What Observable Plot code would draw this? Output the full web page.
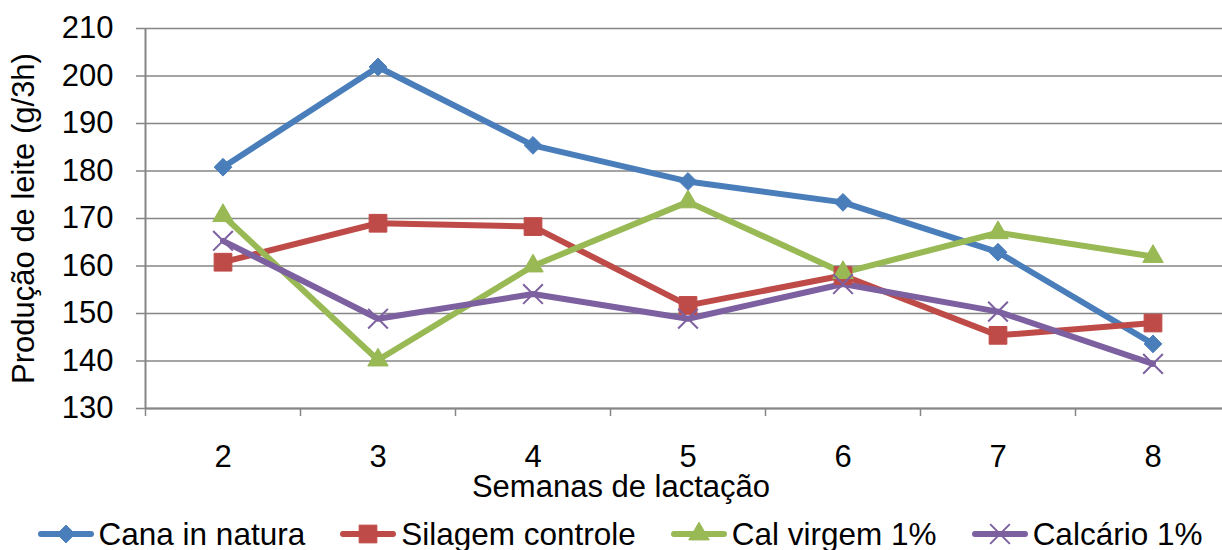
<!DOCTYPE html>
<html>
<head>
<meta charset="utf-8">
<script src="https://cdn.jsdelivr.net/npm/d3@7"></script>
<script src="https://cdn.jsdelivr.net/npm/@observablehq/plot@0.6"></script>
<style>
  html, body { margin: 0; padding: 0; background: #fff; overflow: hidden; }
  body { font-family: "Liberation Sans", Arial, sans-serif; color: #000; }
  #legend {
    width: 1240px; height: 45px; box-sizing: border-box; padding-top: 12px;
    display: flex; justify-content: center; align-items: flex-start; gap: 35px;
  }
  .item { display: flex; align-items: center; height: 34px; font-size: 31.5px; line-height: 34px; white-space: nowrap; }
  .item svg { margin-right: 5px; }
</style>
</head>
<body>
<div id="chart"></div>
<div id="legend"></div>
<script>
// Milk production per 3 h by week of lactation, four feeding treatments
const weeks = [2, 3, 4, 5, 6, 7, 8];
const seriesNames = ["Cana in natura", "Silagem controle", "Cal virgem 1%", "Calcário 1%"];
const canaInNatura    = [180.8, 201.9, 185.4, 177.8, 173.4, 162.9, 143.6];
const silagemControle = [160.8, 169.0, 168.3, 151.7, 158.0, 145.4, 148.0];
const calVirgem       = [170.6, 140.2, 160.0, 173.5, 158.6, 167.0, 162.0];
const calcario        = [165.3, 148.9, 154.1, 148.9, 156.2, 150.4, 139.4];
const yTicks = [130, 140, 150, 160, 170, 180, 190, 200, 210];
const xTitle = "Semanas de lactação";
const yTitle = "Produção de leite (g/3h)";

const seriesValues = [canaInNatura, silagemControle, calVirgem, calcario];
const colors = ["#4A7EBB", "#BE4B48", "#98B954", "#7D60A0"];
// marker look for each series: [Plot symbol, d3 symbol, radius, filled]
const markers = [
  ["diamond2", d3.symbolDiamond2, 8, true],
  ["square", d3.symbolSquare, 10, true],
  ["triangle", d3.symbolTriangle, 7.6, true],
  ["times", d3.symbolTimes, 9, false]
];

const rows = seriesNames.flatMap((name, s) =>
  weeks.map((w, i) => ({series: name, week: w, value: seriesValues[s][i]}))
);

// category boundaries carry the x-axis tick marks
const bounds = d3.range(weeks.length + 1).map(i => weeks[0] - 0.5 + i);
const gray = "#868686";
const font = 31;

const marks = [
  Plot.gridY(yTicks, {stroke: gray, strokeOpacity: 1, strokeWidth: 1.5}),
  Plot.ruleY([yTicks[0]], {stroke: gray, strokeWidth: 2}),
  Plot.ruleX([bounds[0]], {stroke: gray, strokeWidth: 2}),
  Plot.axisY({ticks: yTicks, tickSize: 9, tickPadding: 23, stroke: gray, strokeWidth: 1.5, fill: "#000", fontSize: font, label: null}),
  Plot.axisX({ticks: bounds, tickSize: 8, tickFormat: () => "", stroke: gray, strokeWidth: 1.5, label: null}),
  Plot.axisX({ticks: weeks, tickSize: 0, tickPadding: 36, fill: "#000", fontSize: font, tickFormat: d3.format("d"), label: null}),
  Plot.text([yTitle], {text: d => d, frameAnchor: "left", rotate: -90, dx: -121, textAnchor: "middle", lineAnchor: "middle", fontSize: font, fill: "#000"}),
  Plot.text([xTitle], {text: d => d, frameAnchor: "bottom", dx: -63, dy: 79, textAnchor: "middle", lineAnchor: "middle", fontSize: font, fill: "#000"}),
  Plot.line(rows, {x: "week", y: "value", z: "series", stroke: "series", strokeWidth: 6, strokeLinejoin: "round", strokeLinecap: "round"})
];
seriesNames.forEach((name, s) => {
  const [sym, , r, filled] = markers[s];
  marks.push(Plot.dot(rows.filter(d => d.series === name), {
    x: "week", y: "value", symbol: () => sym, r,
    fill: filled ? colors[s] : "none",
    stroke: colors[s], strokeWidth: filled ? 1 : 2
  }));
});

const chart = Plot.plot({
  width: 1222,
  height: 505,
  marginLeft: 145,
  marginRight: 0,
  marginTop: 28,
  marginBottom: 97,
  style: {fontFamily: "'Liberation Sans', Arial, sans-serif", fontSize: font + "px", color: "#000", background: "#fff", overflow: "hidden"},
  x: {type: "linear", domain: [bounds[0], bounds[bounds.length - 1]], range: [145, 1230]},
  y: {domain: [yTicks[0], yTicks[yTicks.length - 1]]},
  color: {domain: seriesNames, range: colors},
  symbol: {domain: ["diamond2", "square", "triangle", "times"], range: ["diamond2", "square", "triangle", "times"]},
  marks
});
document.getElementById("chart").appendChild(chart);

// legend row: line swatch with the series marker, then the name
const legend = d3.select("#legend");
seriesNames.forEach((name, s) => {
  const [, symType, r, filled] = markers[s];
  const item = legend.append("div").attr("class", "item");
  const sw = item.append("svg").attr("width", 56).attr("height", 30);
  sw.append("line").attr("x1", 3).attr("x2", 53).attr("y1", 15).attr("y2", 15)
    .attr("stroke", colors[s]).attr("stroke-width", 6).attr("stroke-linecap", "round");
  sw.append("path").attr("transform", "translate(28,15)")
    .attr("d", d3.symbol(symType, Math.PI * r * r)())
    .attr("fill", filled ? colors[s] : "none")
    .attr("stroke", colors[s]).attr("stroke-width", filled ? 1 : 2);
  item.append("span").text(name);
});
</script>
</body>
</html>
